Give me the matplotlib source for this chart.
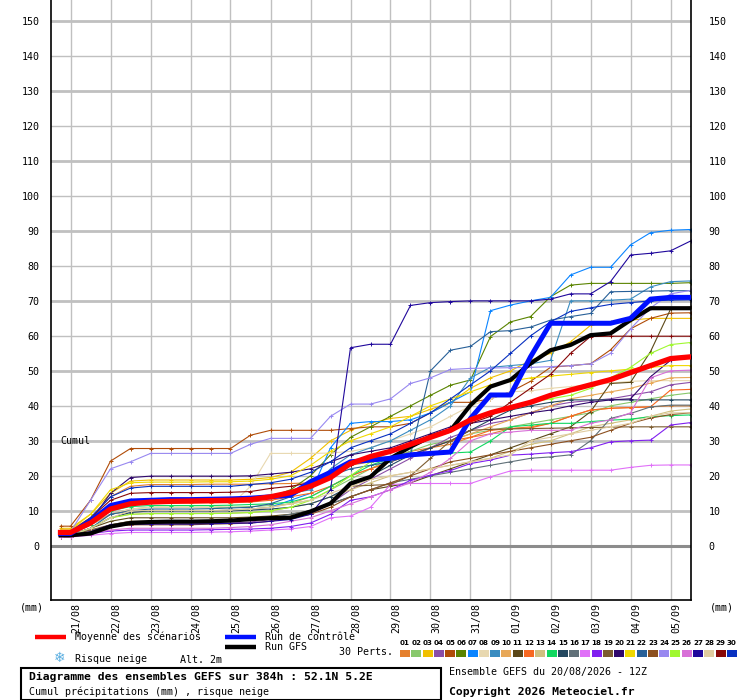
import matplotlib
matplotlib.use('Agg')
import matplotlib.pyplot as plt
from matplotlib.lines import Line2D
from matplotlib.patches import Rectangle
import matplotlib.transforms as mtransforms

# forecast hours from 20/08 12Z (one value every 12h, first at +6h)
hours = [6, 12, 24, 36, 48, 60, 72, 84, 96, 108, 120, 132, 144, 156, 168, 180, 192,
         204, 216, 228, 240, 252, 264, 276, 288, 300, 312, 324, 336, 348, 360, 372, 384]

day_hours = [12, 36, 60, 84, 108, 132, 156, 180, 204, 228, 252, 276, 300, 324, 348, 372]
day_labels = ['21/08', '22/08', '23/08', '24/08', '25/08', '26/08', '27/08', '28/08',
              '29/08', '30/08', '31/08', '01/09', '02/09', '03/09', '04/09', '05/09']

pert_colors = ['#e5802e', '#88c86c', '#f0c000', '#8a4ea8', '#b04c08', '#5a8400',
               '#0a84ff', '#e8d8b0', '#3a8cc0', '#e8a858', '#5c4818', '#f86820',
               '#d0c080', '#10d860', '#244860', '#607078', '#e070f8', '#8020f0',
               '#7c5c30', '#30086c', '#f0d800', '#286098', '#8c5020', '#9888f0',
               '#a0f830', '#d870d8', '#20089c', '#e0cca0', '#880808', '#0830c0']

# cumulative precipitation (mm) of the 30 perturbations
p01 = [4.5, 4.5, 8, 14, 17, 17.5, 17.5, 17.5, 17.6, 17.6, 17.6, 17.7, 17.8, 18, 20, 23, 24, 25, 27, 28, 29, 31, 32, 33.5, 34, 35, 37, 38.8, 39.3, 39.5, 39.7, 40, 40]
p02 = [3.5, 3.5, 6, 9, 10.5, 11, 11, 11, 11, 11, 11.2, 11.5, 12, 13, 16, 19, 22, 25, 27, 29, 30, 32, 33, 34, 35, 36, 37, 38, 40, 41, 42, 43, 43.7]
p03 = [5, 5, 9, 15, 18.5, 18.8, 18.8, 18.8, 18.8, 18.8, 19, 19.5, 21, 25, 30, 33, 35, 36.4, 37, 39, 41, 45, 48, 50, 53, 55, 58.3, 63, 64, 64.5, 65, 65, 65]
p04 = [3, 3, 4.5, 5.5, 6, 6.2, 6.3, 6.3, 6.4, 6.5, 6.8, 7.5, 8, 9, 12, 16, 19, 22, 25, 28, 31, 33, 35, 36, 38, 40, 41, 41.5, 42, 43, 44, 46, 46.7]
p05 = [5.6, 5.6, 13, 24.2, 27.8, 27.8, 27.8, 27.8, 27.8, 27.8, 31.6, 33, 33, 33, 33, 33.5, 34, 34, 35, 38, 41, 41, 42, 44, 47, 51, 51.5, 52, 56, 62, 65, 66.5, 66.6]
p06 = [4, 4, 7, 11, 12, 12.5, 12.5, 12.5, 12.6, 12.8, 13, 14, 16, 20, 26, 31, 34, 37, 40, 43, 45.9, 47.4, 59.8, 64, 65.5, 71.2, 74.5, 75, 75, 75, 75, 75, 75.2]
p07 = [3.5, 3.5, 6, 9, 10, 10, 10, 10, 10, 10.2, 10.5, 11, 13, 15, 28, 35, 35.5, 35.5, 36, 38, 41, 44, 67.2, 68.8, 70, 71, 77.4, 79.6, 79.6, 86, 89.5, 90.2, 90.4]
p08 = [4, 4, 6, 9, 10.5, 11, 11, 11, 11, 11.5, 17, 26.4, 26.4, 26.4, 26.5, 27, 28, 30, 32, 34, 37, 40, 42, 44, 44.3, 45, 45.5, 46, 46.5, 47, 47.2, 47.2, 47.2]
p09 = [3.5, 3.5, 6.5, 11, 13, 13.1, 13.1, 13.1, 13.1, 13.2, 13.5, 14, 15, 16, 22, 26, 28, 30, 33, 36, 40, 48, 51, 51.5, 52, 53, 70, 70, 70.2, 70.5, 74, 75.5, 75.7]
p10 = [3.5, 3.5, 6, 9, 10, 10, 10, 10, 10, 10.2, 10.5, 11, 12, 14, 17, 20, 22, 24, 26, 28, 30, 32, 34, 36, 38, 40, 42, 43, 44, 45, 46.5, 48, 48.1]
p11 = [3, 3, 5, 7, 8, 8, 8, 8, 8, 8, 8.2, 8.5, 9, 10, 12, 14, 16, 17, 18, 20, 22, 24, 26, 28, 30, 32, 34, 38.3, 46.4, 46.7, 55.5, 67.6, 68.2]
p12 = [4, 4, 7, 11, 12, 12.2, 12.2, 12.2, 12.3, 12.3, 12.5, 13, 14, 15, 17, 20, 22, 24, 26, 28, 30, 31, 33, 33.5, 33.7, 35, 37, 38.8, 39.3, 39.5, 39.7, 44.5, 44.7]
p13 = [3, 3, 5, 8, 9, 9.2, 9.2, 9.2, 9.3, 9.3, 9.5, 10, 11, 12, 14, 16, 18, 20, 21, 22, 23, 24, 25, 27, 29, 30, 32, 34, 35, 36, 37, 38.5, 39.1]
p14 = [3.5, 3.5, 6, 10, 11.2, 11.5, 11.5, 11.5, 11.5, 11.6, 11.8, 12, 12.5, 14, 17, 20, 23, 25, 26, 26.4, 26.5, 26.8, 30, 34, 34.5, 35, 35, 35.5, 35.9, 36.2, 36.9, 37.2, 37.4]
p15 = [3, 3, 5, 8, 9.5, 10, 10, 10, 10, 10, 10.2, 10.5, 11, 12, 14, 17, 20, 23, 26, 28, 30, 33, 36, 38.8, 40, 41, 41.7, 41.7, 41.7, 41.7, 41.7, 41.7, 41.7]
p16 = [2.5, 2.5, 4, 6, 7, 7, 7, 7, 7.2, 7.2, 7.5, 8, 9, 10, 12, 14, 16, 18, 19, 20, 21, 22, 23, 24, 25, 25.4, 26, 30, 36.4, 37.8, 39.7, 40.2, 40.2]
p17 = [2.5, 2.5, 3, 3.5, 3.8, 3.8, 3.8, 3.8, 3.9, 4, 4.2, 4.5, 4.8, 5.5, 8, 8.5, 11, 17.5, 17.8, 17.8, 17.8, 17.8, 19.7, 21.4, 21.6, 21.6, 21.6, 21.6, 21.6, 22.4, 23, 23.1, 23.1]
p18 = [2.5, 2.5, 3.5, 4.2, 4.5, 4.5, 4.5, 4.5, 4.6, 4.7, 4.8, 5, 5.5, 6.5, 9, 13, 14, 16, 18.7, 20.2, 21.5, 23.5, 24.5, 25.9, 26.2, 26.6, 26.9, 28, 29.7, 30, 30.2, 34.5, 35.2]
p19 = [3, 3, 4.5, 6, 7, 7, 7, 7, 7, 7.2, 7.4, 7.8, 8.5, 10, 12, 17, 17.3, 17.5, 20, 25, 30, 33, 33.3, 33.4, 33.5, 33.6, 33.7, 33.8, 33.9, 34, 34, 34, 34]
p20 = [3.5, 3.5, 7, 15, 19.5, 19.9, 19.9, 19.9, 19.9, 19.9, 20, 20.5, 21, 22, 24, 26, 27, 28, 30, 32, 34, 35, 36, 37, 38, 38.8, 40, 41, 41.7, 42, 48.3, 53, 54]
p21 = [4.5, 4.5, 9, 16, 18, 18.2, 18.2, 18.2, 18.3, 18.3, 18.5, 19, 20, 23, 27, 30, 32, 34, 37, 40, 42, 44, 46, 47, 48, 48.5, 49, 49.5, 50, 50.5, 51, 51.5, 51.5]
p22 = [3, 3, 5, 9, 10, 10.5, 10.5, 10.5, 10.6, 10.8, 11, 12, 14, 17, 20, 22, 23, 24, 26, 50, 55.9, 57, 61.2, 61.5, 62.5, 64.5, 65.5, 66.4, 72.6, 72.7, 72.8, 72.9, 72.9]
p23 = [2.5, 2.5, 4, 5.5, 6, 6, 6, 6, 6.2, 6.3, 6.5, 7, 8, 9, 11, 14, 16, 18, 20, 22, 24, 25, 26, 27, 28, 29, 30, 31, 33, 35, 36.5, 37.5, 38]
p24 = [4, 4, 13, 22, 24, 26.4, 26.4, 26.4, 26.4, 26.4, 29, 30.7, 30.7, 30.7, 37, 40.5, 40.5, 42, 46.4, 48, 50.4, 50.7, 50.8, 50.9, 51, 51.2, 51.5, 52, 55, 62, 68, 72, 73]
p25 = [3, 3, 5, 8, 9, 9.2, 9.2, 9.2, 9.2, 9.3, 9.5, 10, 11, 13, 16, 20, 24, 27, 29, 31, 33, 36, 38, 40, 41, 42, 43, 45, 48, 51, 55, 57.5, 58.1]
p26 = [2.5, 2.5, 3.5, 4.5, 5, 5, 5, 5, 5, 5.2, 5.5, 6, 7, 8, 10, 12, 14, 16, 18, 21, 25, 30, 32, 32.5, 33, 33, 33, 35, 36, 38, 48, 50, 50.2]
p27 = [3, 3, 4, 6, 6.2, 6.2, 6.2, 6.2, 6.3, 6.4, 6.5, 7, 7.5, 9, 16, 56.6, 57.6, 57.6, 68.7, 69.5, 69.8, 70, 70, 70, 70, 70.5, 72, 72, 75.5, 83.1, 83.6, 84.3, 87.1]
p28 = [3, 3, 5, 8, 10, 10.1, 10.1, 10.1, 10.1, 10.2, 10.5, 11, 12, 13, 15, 17, 19, 20, 21, 22, 23, 24, 25, 26, 30, 31, 32, 33, 34, 35, 37, 38, 38]
p29 = [4, 4, 8, 13, 15, 15.2, 15.2, 15.2, 15.2, 15.3, 15.5, 16.4, 17, 18, 20, 23, 25, 27, 29, 31, 33, 35, 37, 41, 45, 49, 55, 59.8, 59.9, 59.9, 59.9, 59.9, 59.9]
p30 = [4, 4, 8, 14, 16.5, 17, 17, 17, 17, 17, 17.5, 18, 19, 21, 24, 28, 30, 32, 35, 38, 42, 46, 50, 55, 60, 64, 67, 68, 69, 69.5, 70, 70.2, 70.3]
perts = [p01, p02, p03, p04, p05, p06, p07, p08, p09, p10, p11, p12, p13, p14, p15,
         p16, p17, p18, p19, p20, p21, p22, p23, p24, p25, p26, p27, p28, p29, p30]

mean_run = [3.8, 3.8, 6.5, 10.5, 12, 12.5, 12.7, 12.8, 12.9, 13, 13.2, 14, 15.2, 17, 19.5, 23.5, 25.5, 27, 29, 31, 33, 36, 38, 39.5, 41, 43, 44.5, 46, 47.5, 49.5, 51.5, 53.5, 54]
control_run = [3.5, 3.5, 7, 11.5, 12.8, 13, 13.2, 13.2, 13.3, 13.4, 13.6, 14, 14.5, 18.3, 21, 24, 24.5, 25, 26, 26.4, 26.8, 36.4, 43.1, 43.1, 54, 63.6, 63.6, 63.6, 63.6, 65, 70.5, 71, 71]
gfs_run = [3, 3, 3.5, 5.5, 6.5, 6.8, 6.9, 6.9, 7, 7.2, 7.6, 7.9, 8, 9.8, 12.1, 17.8, 19.7, 25, 28.3, 31.2, 33, 40.2, 45.5, 47.4, 52.1, 55.9, 57.4, 60.2, 60.7, 64.5, 67.9, 67.9, 67.9]

mono = 'DejaVu Sans Mono'
W, H = 740, 700

fig = plt.figure(figsize=(7.4, 7.0), dpi=100)
ax = fig.add_axes([50.5 / W, 1 - 600 / H, 640 / W, 600 / H])
ax.set_xlim(0, 384)
ax.set_ylim(-15.5, 156)

# grid
for h in day_hours:
    ax.axvline(h, color='#c0c0c0', lw=1.0, zorder=0)
for v in range(10, 160, 10):
    ax.axhline(v, color='#c0c0c0', lw=2.0 if v % 20 else 1.0, zorder=0)
ax.axhline(0, color='#8c8c8c', lw=2.2, zorder=0)

for vals, c in zip(perts, pert_colors):
    ax.plot(hours, vals, color=c, lw=0.8, marker='+', ms=3.5, mew=0.7, zorder=2)

ax.plot(hours, gfs_run, color='black', lw=3.0, zorder=3)
ax.plot(hours, control_run, color='#0010ff', lw=3.6, zorder=4)
ax.plot(hours, mean_run, color='#ff0000', lw=3.8, zorder=5)

for s in ['left', 'bottom', 'right']:
    ax.spines[s].set_color('black')
    ax.spines[s].set_linewidth(1.2)
ax.spines['top'].set_visible(False)

ax.set_yticks(range(0, 160, 10))
ax.set_yticklabels([str(v) for v in range(0, 160, 10)], family=mono, fontsize=7.2)
ax.tick_params(axis='y', length=0, pad=8, labelright=True)
ax.set_xticks([])
# right labels start about 18 px right of the frame
for t in ax.yaxis.get_major_ticks():
    t.label2.set_x(1.0 + 7 / 640)
    t.label2.set_horizontalalignment('left')

trans = mtransforms.blended_transform_factory(ax.transData, ax.transAxes)
for h, lab in zip(day_hours, day_labels):
    ax.text(h + 3.6, -0.005, lab, transform=trans, rotation=90, ha='center', va='top',
            family=mono, fontsize=7.2)

ax.text(6, 30, 'Cumul', family=mono, fontsize=7.2, va='center')


def fx(px):
    return px / W


def fy(py):
    return 1 - py / H


fig.text(fx(20), fy(607), '(mm)', family=mono, fontsize=7.2, va='center')
fig.text(fx(710), fy(607), '(mm)', family=mono, fontsize=7.2, va='center')

# legend
fig.add_artist(Line2D([fx(35), fx(66)], [fy(637), fy(637)], color='#ff0000', lw=3.2,
                      solid_capstyle='butt'))
fig.text(fx(75), fy(637), 'Moyenne des scénarios', family=mono, fontsize=7.2, va='center')
fig.add_artist(Line2D([fx(225), fx(256)], [fy(637), fy(637)], color='#0010ff', lw=3.2,
                      solid_capstyle='butt'))
fig.text(fx(265), fy(637), 'Run de contrôle', family=mono, fontsize=7.2, va='center')
fig.add_artist(Line2D([fx(225), fx(256)], [fy(647), fy(647)], color='black', lw=3.2,
                      solid_capstyle='butt'))
fig.text(fx(265), fy(647), 'Run GFS', family=mono, fontsize=7.2, va='center')
fig.text(fx(339), fy(652), '30 Perts.', family=mono, fontsize=7.2, va='center')

fig.text(fx(60), fy(658), '\u2744', family='DejaVu Sans', fontsize=10, color='#5aaee0',
         ha='center', va='center')
fig.text(fx(75), fy(659), 'Risque neige', family=mono, fontsize=7.2, va='center')
fig.text(fx(180), fy(660), 'Alt. 2m', family=mono, fontsize=7.2, va='center')

pitch = 11.27
for i, c in enumerate(pert_colors):
    x0 = 400 + i * pitch
    fig.add_artist(Rectangle((fx(x0), fy(657)), 10 / W, 7 / H, color=c, lw=0))
    fig.text(fx(x0 + 5), fy(643), '%02d' % (i + 1), family='DejaVu Sans', fontsize=5.1,
             fontweight='bold', ha='center', va='center')

fig.add_artist(Rectangle((fx(20.5), fy(699.5)), 420 / W, 32 / H, fill=False,
                         edgecolor='black', lw=1.5))
fig.text(fx(29), fy(677), 'Diagramme des ensembles GEFS sur 384h : 52.1N 5.2E',
         family=mono, fontsize=8.2, fontweight='bold', va='center')
fig.text(fx(29), fy(692), 'Cumul précipitations (mm) , risque neige',
         family=mono, fontsize=7.2, va='center')
fig.text(fx(449), fy(672), 'Ensemble GEFS du 20/08/2026 - 12Z', family=mono,
         fontsize=7.2, va='center')
fig.text(fx(449), fy(692), 'Copyright 2026 Meteociel.fr', family=mono, fontsize=8.2,
         fontweight='bold', va='center')

fig.savefig('out.png', dpi=100)
